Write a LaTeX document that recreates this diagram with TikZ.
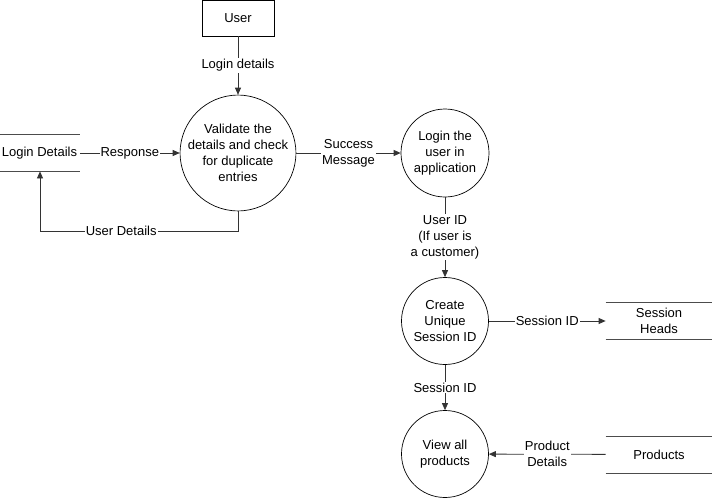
\documentclass[tikz,border=0pt]{standalone}
\usepackage{fontspec}
\setmainfont{Liberation Sans}
\usetikzlibrary{arrows.meta}
\begin{document}
\begin{tikzpicture}[x=1pt,y=-1pt,
  font=\fontsize{13}{16}\selectfont,
  line width=0.8pt,
  every node/.style={inner sep=1pt},
  process/.style={draw, circle, line width=0.7pt, minimum size=#1, align=center, inner sep=0pt},
  entity/.style={draw, rectangle, line width=0.7pt, minimum width=72, minimum height=36},
  store/.style={rectangle, minimum width=#1, minimum height=36, align=center},
  flow/.style={draw=black!80, -{Triangle[length=7pt,width=6pt]}},
  lbl/.style={fill=white, align=center, inner sep=1pt}]
\useasboundingbox (0,0) rectangle (712,498);

% external entity
\node[entity] (user) at (238,18) {User};

% processes
\node[process=107] (val) at (238,153) {Validate the\\details and check\\for duplicate\\entries};
\node[process=88] (login) at (445,153) {Login the\\user in\\application};
\node[process=87] (sess) at (445,321) {Create\\Unique\\Session ID};
\node[process=87] (view) at (445,454) {View all\\products};

% data stores
\node[store=80] (ld) at (39.5,153) {Login Details};
\node[store=106] (sh) at (659,321) {Session\\Heads};
\node[store=106] (pr) at (659,454.5) {Products};
\foreach \s in {ld,sh,pr}{
  \draw[black!70] (\s.north west) -- (\s.north east);
  \draw[black!70] (\s.south west) -- (\s.south east);
}

% data flows
\draw[flow] (user) -- node[lbl] {Login details} (val);
\draw[flow] (ld) -- node[lbl] {Response} (val);
\coordinate (ud1) at (val.south |- 0,231);
\coordinate (ud2) at (40,231);
\draw[flow] (val.south) -- (ud1) -- node[lbl,pos=0.59] {User Details} (ud2) -- (ld.south -| ud2);
\draw[flow] (val) -- node[lbl] {Success\\Message} (login);
\draw[flow] (login) -- node[lbl] {User ID\\(If user is\\a customer)} (sess);
\draw[flow] (sess) -- node[lbl] {Session ID} (sh);
\draw[flow] (sess) -- node[lbl] {Session ID} (view);
\draw[flow] (pr) -- node[lbl,pos=0.5] {Product\\Details} (view);
\end{tikzpicture}
\end{document}
